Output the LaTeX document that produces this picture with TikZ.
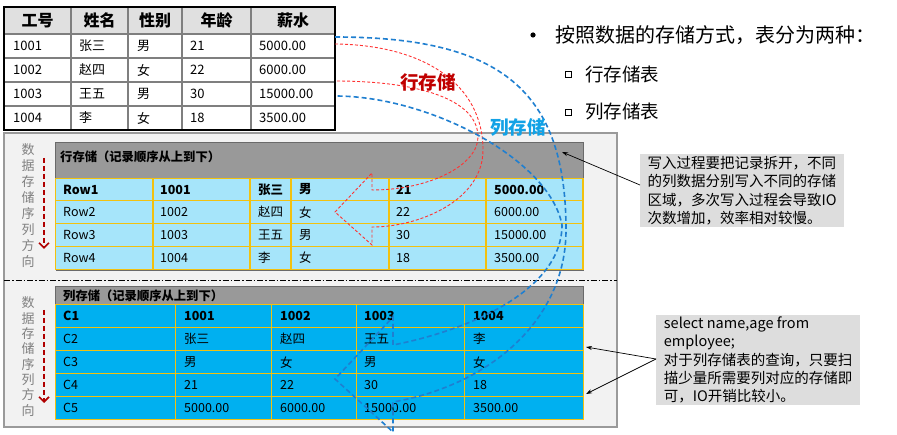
\documentclass[tikz,border=0pt]{standalone}
\usepackage{fontspec}
\setmainfont{Noto Sans CJK SC}
\usetikzlibrary{arrows.meta}
\definecolor{hdrgray}{HTML}{E0E0E0}
\definecolor{gridgray}{HTML}{7F7F7F}
\definecolor{panelfill}{HTML}{F2F2F2}
\definecolor{panelline}{HTML}{9A9A9A}
\definecolor{barfill}{HTML}{999999}
\definecolor{barline}{HTML}{6A6A6A}
\definecolor{rowcyan}{HTML}{A6E5FA}
\definecolor{colcyan}{HTML}{00B0F0}
\definecolor{gold}{HTML}{F2C10F}
\definecolor{arrred}{HTML}{FF3333}
\definecolor{arrblue}{HTML}{1F7FD0}
\definecolor{lblred}{HTML}{C00000}
\definecolor{lblblue}{HTML}{12A2E6}
\definecolor{darkred}{HTML}{B00000}
\definecolor{sidegray}{HTML}{808080}
\definecolor{calloutfill}{HTML}{DDDDDD}
\tikzset{
  cell/.style={anchor=west, inner sep=0pt, font=\fontsize{13}{15}\selectfont},
  tcell/.style={anchor=west, inner sep=0pt, font=\fontsize{12.5}{15}\selectfont},
  hcell/.style={inner sep=0pt, font=\fontsize{16}{18}\selectfont\bfseries},
  barlabel/.style={anchor=west, inner sep=0pt, font=\fontsize{12.3}{14}\selectfont\bfseries},
  sidechar/.style={inner sep=0pt, text=sidegray, font=\fontsize{13}{14}\selectfont},
  sidearrow/.style={draw=darkred, line width=1.6pt, dash pattern=on 5pt off 3pt, -{Straight Barb[length=5pt,width=10pt,line width=1.6pt]}},
  calloutbox/.style={fill=calloutfill, anchor=north west, align=left, inner xsep=5pt, inner ysep=1.5pt, font=\fontsize{14.5}{18.3}\selectfont},
  pointer/.style={draw=black, line width=0.7pt, -{Stealth[length=6pt,width=4pt]}},
  redcurve/.style={draw=arrred, line width=0.9pt, dash pattern=on 3pt off 2pt},
  bluecurve/.style={draw=arrblue, line width=1.6pt, dash pattern=on 5pt off 3pt},
  gridline/.style={draw=gold, line width=1.1pt}
}
\begin{document}
\begin{tikzpicture}[x=1pt,y=-1pt]
\useasboundingbox (0,0) rectangle (897,435);
\fill[white] (0,0) rectangle (897,435);

% ---------- top table ----------
\fill[hdrgray] (4,7) rectangle (335,34);
\foreach \x in {71,128,182,251} \draw[gridgray, line width=1.5pt] (\x,7) -- (\x,130);
\foreach \y in {34,58,82,106} \draw[gridgray, line width=1.5pt] (4,\y) -- (335,\y);
\draw[black, line width=2.2pt] (4,7) rectangle (335,130);
\foreach \t/\x [count=\i] in {工号/37.5,姓名/99.5,性别/155,年龄/216.5,薪水/293}
  \node[hcell] (th\i) at (\x,20.5) {\t};
\foreach \r/\y/\a/\b/\c/\d/\e in {1/46/1001/张三/男/21/5000.00, 2/70/1002/赵四/女/22/6000.00, 3/94/1003/王五/男/30/15000.00, 4/118/1004/李/女/18/3500.00}{
  \node[cell] (t\r-a) at (13,\y) {\a};
  \node[cell] (t\r-b) at (79,\y) {\b};
  \node[cell] (t\r-c) at (137,\y) {\c};
  \node[cell] (t\r-d) at (190,\y) {\d};
  \node[cell] (t\r-e) at (259,\y) {\e};
}

% ---------- right text ----------
\fill[black] (533,35) circle (2.6pt);
\node[anchor=west, inner sep=0pt, font=\fontsize{20}{22}\selectfont] (intro) at (555,35) {按照数据的存储方式，表分为两种：};
\draw[black, line width=0.9pt] (565,71) rectangle (571,77);
\draw[black, line width=0.9pt] (565,109) rectangle (571,115);
\node[anchor=west, inner sep=0pt, font=\fontsize{18.5}{20}\selectfont] (it1) at (585,74) {行存储表};
\node[anchor=west, inner sep=0pt, font=\fontsize{18.5}{20}\selectfont] (it2) at (585,112) {列存储表};

% ---------- panel ----------
\draw[fill=panelfill, draw=panelline, line width=1.2pt] (4,133) rectangle (617,427);
\draw[black, line width=0.8pt, dash pattern=on 6pt off 2pt on 1.5pt off 2pt] (4,280) -- (617,280);

% side texts
\foreach \c [count=\i] in {数,据,存,储,序,列,方,向}{
  \node[sidechar] (sa\i) at (28,150+16*\i-16) {\c};
  \node[sidechar] (sb\i) at (28,303+15.3*\i-15.3) {\c};
}
\coordinate (sa-top) at (44,158);
\coordinate (sa-bot) at (44,249);
\coordinate (sb-top) at (44,310);
\coordinate (sb-bot) at (44,403);
\draw[sidearrow] (sa-top) -- (sa-bot);
\draw[sidearrow] (sb-top) -- (sb-bot);

% ---------- row-store table ----------
\draw[fill=barfill, draw=barline, line width=0.8pt] (55.5,142.3) rectangle (583,178.3);
\node[barlabel] (rowbar) at (60,157) {行存储（记录顺序从上到下）};
\fill[rowcyan] (55.5,178.3) rectangle (583,269.3);
\draw[barline, line width=2pt] (55.5,270.5) -- (584,270.5);
\foreach \x in {153,250,291,389,486} \draw[gridline] (\x,178.3) -- (\x,269.3);
\foreach \y in {200.7,223.7,246.3} \draw[gridline] (55.5,\y) -- (583,\y);
\draw[gridline] (55.5,178.3) rectangle (583,269.3);
\node[tcell, font=\fontsize{12.5}{15}\selectfont\bfseries] (r1-a) at (63,189.5) {Row1};
\node[tcell, font=\fontsize{12.5}{15}\selectfont\bfseries] (r1-b) at (160,189.5) {1001};
\node[tcell, font=\fontsize{12.5}{15}\selectfont\bfseries] (r1-c) at (258,189.5) {张三};
\node[tcell, font=\fontsize{12.5}{15}\selectfont\bfseries] (r1-d) at (299,189.5) {男};
\node[tcell, font=\fontsize{12.5}{15}\selectfont\bfseries] (r1-e) at (396,189.5) {21};
\node[tcell, font=\fontsize{12.5}{15}\selectfont\bfseries] (r1-f) at (494,189.5) {5000.00};
\foreach \r/\y/\a/\b/\c/\d/\e/\f in {2/212.2/Row2/1002/赵四/女/22/6000.00, 3/235/Row3/1003/王五/男/30/15000.00, 4/257.8/Row4/1004/李/女/18/3500.00}{
  \node[tcell] (r\r-a) at (63,\y) {\a};
  \node[tcell] (r\r-b) at (160,\y) {\b};
  \node[tcell] (r\r-c) at (258,\y) {\c};
  \node[tcell] (r\r-d) at (299,\y) {\d};
  \node[tcell] (r\r-e) at (396,\y) {\e};
  \node[tcell] (r\r-f) at (494,\y) {\f};
}

% ---------- column-store table ----------
\draw[fill=barfill, draw=barline, line width=0.8pt] (55.5,286.7) rectangle (583.6,304.3);
\node[barlabel] (colbar) at (63,295.7) {列存储（记录顺序从上到下）};
\fill[colcyan] (55.5,304.3) rectangle (583.6,419.3);
\foreach \x in {175.3,271.3,356.3,464.6} \draw[gridline] (\x,304.3) -- (\x,419.3);
\foreach \y in {327.3,350.7,373.7,396.3} \draw[gridline] (55.5,\y) -- (583.6,\y);
\draw[gridline] (55.5,304.3) rectangle (583.6,419.3);
\node[tcell, font=\fontsize{12.5}{15}\selectfont\bfseries] (c1-a) at (63,315.8) {C1};
\node[tcell, font=\fontsize{12.5}{15}\selectfont\bfseries] (c1-b) at (184,315.8) {1001};
\node[tcell, font=\fontsize{12.5}{15}\selectfont\bfseries] (c1-c) at (280,315.8) {1002};
\node[tcell, font=\fontsize{12.5}{15}\selectfont\bfseries] (c1-d) at (364,315.8) {1003};
\node[tcell, font=\fontsize{12.5}{15}\selectfont\bfseries] (c1-e) at (473,315.8) {1004};
\foreach \r/\y/\a/\b/\c/\d/\e in {2/339/C2/张三/赵四/王五/李, 3/362.2/C3/男/女/男/女, 4/385/C4/21/22/30/18, 5/407.8/C5/5000.00/6000.00/15000.00/3500.00}{
  \node[tcell] (c\r-a) at (63,\y) {\a};
  \node[tcell] (c\r-b) at (184,\y) {\b};
  \node[tcell] (c\r-c) at (280,\y) {\c};
  \node[tcell] (c\r-d) at (364,\y) {\d};
  \node[tcell] (c\r-e) at (473,\y) {\e};
}

% ---------- curved block arrows ----------
\draw[redcurve] (335,44) .. controls (425,45) and (483,85) .. (483,150)
  .. controls (483,200) and (420,227) .. (372,227) -- (372,245) -- (335,212) -- (372,173) -- (372,190)
  .. controls (430,190) and (478,165) .. (478,137)
  .. controls (478,100) and (420,81) .. (335,81);
\draw[bluecurve] (335,37) .. controls (500,37) and (566,90) .. (566,230)
  .. controls (566,320) and (490,385) .. (393,402) -- (393,432) -- (335,379) -- (393,317) -- (393,345)
  .. controls (470,330) and (562,290) .. (562,225)
  .. controls (550,160) and (430,96) .. (335,96);
\node[inner sep=0pt, text=lblred, font=\fontsize{18.5}{20}\selectfont\bfseries] (lblrow) at (428,82) {行存储};
\node[inner sep=0pt, text=lblblue, font=\fontsize{18.5}{20}\selectfont\bfseries] (lblcol) at (518,128) {列存储};

% ---------- callouts ----------
\node[calloutbox, minimum width=204pt, minimum height=72.4pt] (co1) at (640,154.3)
  {写入过程要把记录拆开，不同\\的列数据分别写入不同的存储\\区域，多次写入过程会导致IO\\次数增加，效率相对较慢。};
\node[calloutbox, minimum width=204pt, minimum height=89pt] (co2) at (656,315)
  {select name,age from\\employee;\\对于列存储表的查询，只要扫\\描少量所需要列对应的存储即\\可，IO开销比较小。};
\coordinate (co1s) at (640,185);
\coordinate (co1t) at (562,152);
\coordinate (co2s) at (656,359);
\coordinate (co2t1) at (586,347);
\coordinate (co2t2) at (586,394);
\draw[pointer] (co1s) -- (co1t);
\draw[pointer] (co2s) -- (co2t1);
\draw[pointer] (co2s) -- (co2t2);
\end{tikzpicture}
\end{document}
